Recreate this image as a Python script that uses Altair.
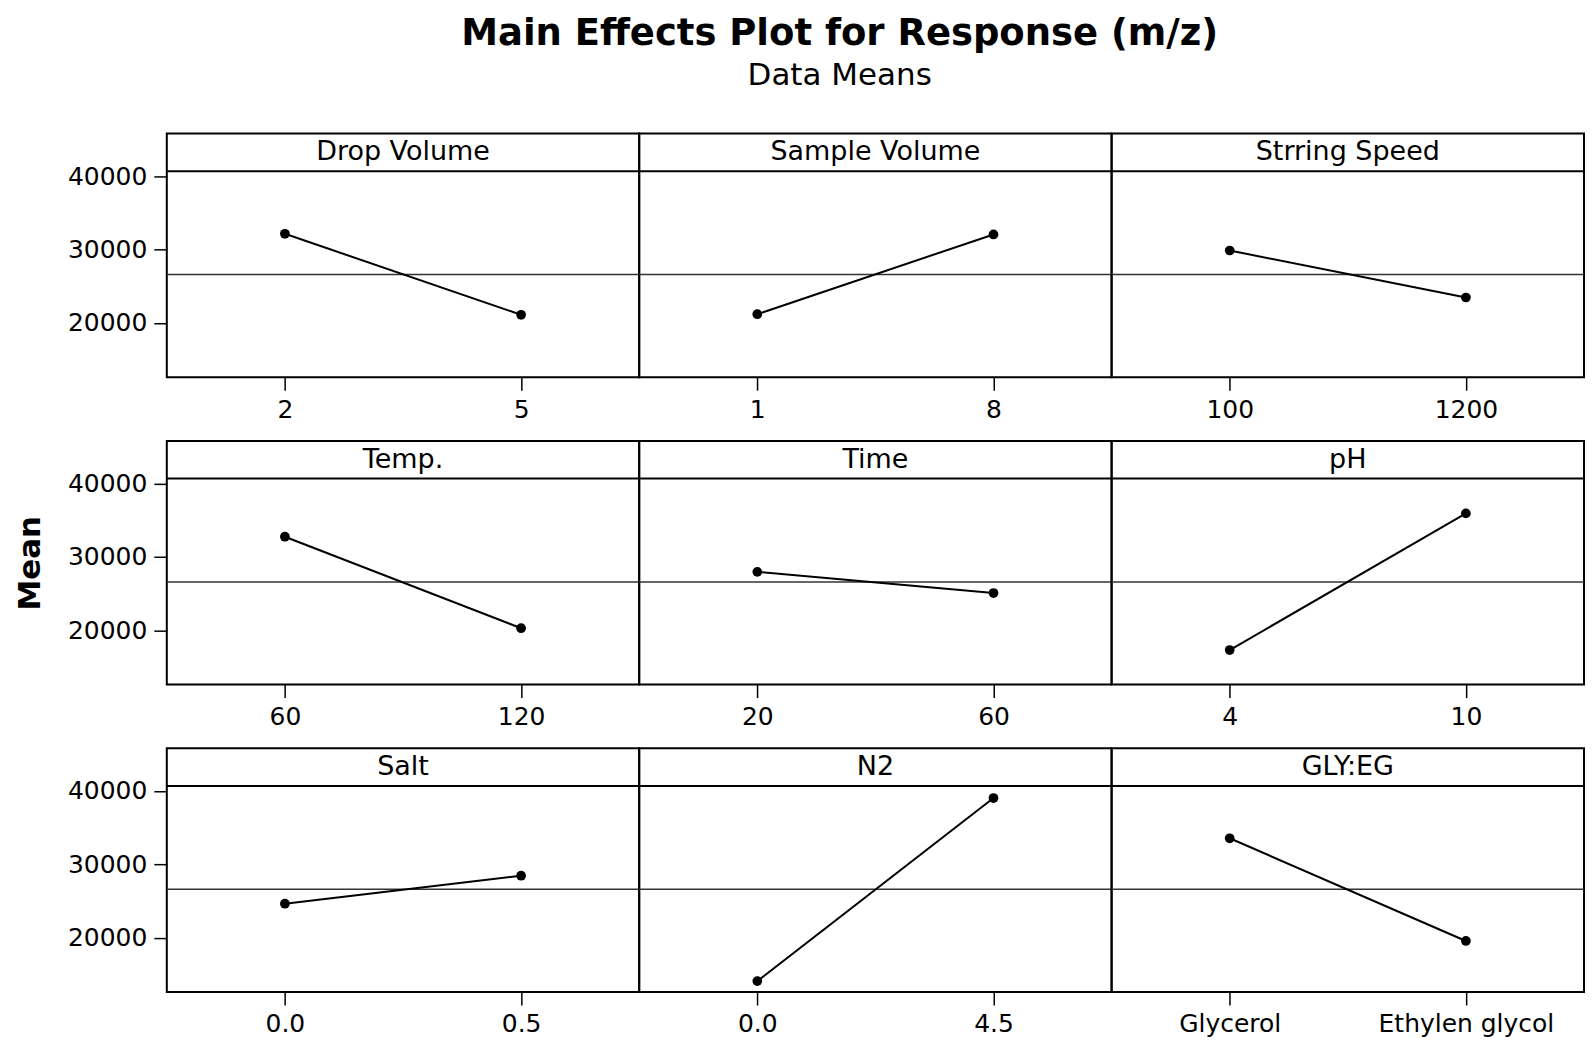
import altair as alt
import pandas as pd

# ---- data ----
factors = ["Drop Volume", "Sample Volume", "Strring Speed",
           "Temp.", "Time", "pH",
           "Salt", "N2", "GLY:EG"]
low_levels = ["2", "1", "100", "60", "20", "4", "0.0", "0.0", "Glycerol"]
high_levels = ["5", "8", "1200", "120", "60", "10", "0.5", "4.5", "Ethylen glycol"]
low_means = [32140, 21170, 29860, 32750, 27960, 17290, 24620, 14070, 33550]
high_means = [21090, 32050, 23450, 20270, 25070, 35930, 28440, 39040, 19540]
grand_mean = 26580
y_ticks = [20000, 30000, 40000]
y_domain = [12580, 45820]
strip_value = 40680

FONT = "DejaVu Sans"
W, H = 473, 244


def y_enc(field, show_axis, show_title):
    if show_axis:
        kw = dict(values=y_ticks, format="d",
                  labelFont=FONT, labelFontSize=25, labelColor="black",
                  labelPadding=7, tickColor="black", tickWidth=1.5,
                  tickSize=13, domain=False, grid=False)
        if show_title:
            axis = alt.Axis(title="Mean", titleFont=FONT, titleFontSize=31,
                            titleFontWeight="bold", titleColor="black",
                            titlePadding=21, **kw)
        else:
            axis = alt.Axis(title=None, **kw)
    else:
        axis = None
    return alt.Y(f"{field}:Q", scale=alt.Scale(domain=y_domain, nice=False, zero=False),
                 axis=axis)


def panel(i):
    name = factors[i]
    show_axis = (i % 3 == 0)
    show_title = (i == 3)
    d = pd.DataFrame({
        "level": [low_levels[i], high_levels[i]],
        "mean": [low_means[i], high_means[i]],
    })
    x = alt.X("level:N", sort=[low_levels[i], high_levels[i]],
              scale=alt.Scale(type="point", padding=0.5),
              axis=alt.Axis(title=None, labelAngle=0, labelFont=FONT, labelFontSize=25,
                            labelColor="black", labelPadding=7, tickColor="black",
                            tickWidth=1.5, tickSize=13, domain=False, grid=False))
    line = alt.Chart(d).mark_line(color="black", strokeWidth=2).encode(
        x=x, y=y_enc("mean", show_axis, show_title))
    pts = alt.Chart(d).mark_point(filled=True, color="black", size=95, opacity=1).encode(
        x=x, y=y_enc("mean", show_axis, show_title))
    mean_rule = alt.Chart(pd.DataFrame({"ref": [grand_mean]})).mark_rule(
        color="#333333", strokeWidth=1.5).encode(y=y_enc("ref", show_axis, show_title))
    strip_rule = alt.Chart(pd.DataFrame({"ref": [strip_value]})).mark_rule(
        color="black", strokeWidth=2).encode(y=y_enc("ref", show_axis, show_title))
    label = alt.Chart(pd.DataFrame({"factor": [name]})).mark_text(
        font=FONT, fontSize=27, color="black", baseline="middle", align="center").encode(
        text="factor:N", x=alt.value(W / 2), y=alt.value(19))
    return alt.layer(mean_rule, strip_rule, line, pts, label).properties(width=W, height=H)


chart = alt.concat(*[panel(i) for i in range(len(factors))], columns=3, bounds="flush",
                   spacing={"row": 63.8, "column": 0}).properties(
    title=alt.Title("Main Effects Plot for Response (m/z)", subtitle="Data Means",
                    font=FONT, fontSize=37, fontWeight="bold", color="black",
                    subtitleFont=FONT, subtitleFontSize=31, subtitleColor="black",
                    subtitlePadding=8, anchor="middle", dx=40, offset=41),
    padding={"left": 5, "top": 6, "right": 0, "bottom": 0},
).configure_view(stroke="black", strokeWidth=2)

chart.save("out.html", embed_options={"renderer": "svg", "actions": False})
